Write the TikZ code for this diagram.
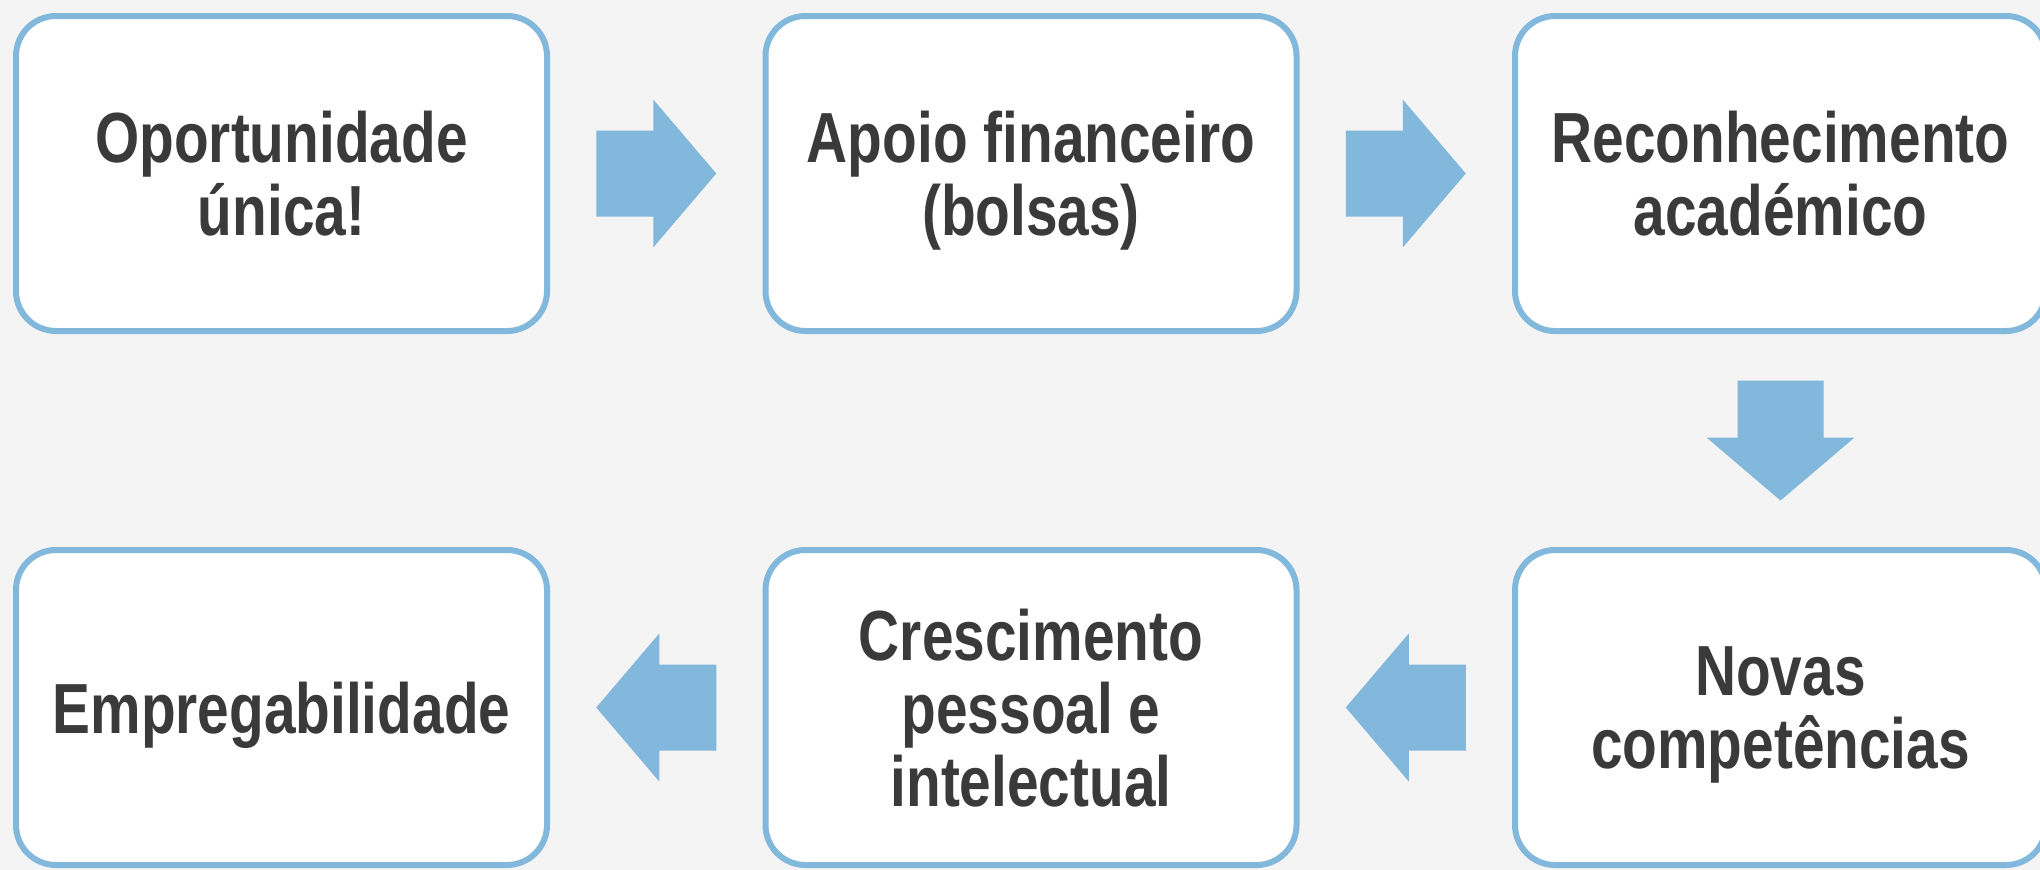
\documentclass[tikz,border=0pt]{standalone}
\usepackage{fontspec}
\newfontfamily\boxfont{Liberation Sans}[FakeStretch=0.8]
\usetikzlibrary{calc}
\definecolor{bordc}{HTML}{82B8DC}
\definecolor{arrc}{HTML}{82B8DC}
\definecolor{txtc}{HTML}{3A3A3A}
\definecolor{bgc}{HTML}{F4F4F4}
\tikzset{
  stepbox/.style={draw=bordc, line width=6pt, fill=white, rounded corners=40pt,
    minimum width=531pt, minimum height=315pt, inner sep=0pt, align=center,
    text depth=0pt, text=txtc, font=\boxfont\bfseries\fontsize{71}{73}\selectfont},
  barrow/.pic={\fill[arrc] (-60,-43) -- (-3,-43) -- (-3,-74) -- (60,0) -- (-3,74) -- (-3,43) -- (-60,43) -- cycle;}
}
\begin{document}
\begin{tikzpicture}[x=1pt,y=1pt]
\fill[bgc] (0,0) rectangle (2040,-870);
\useasboundingbox (0,0) rectangle (2040,-870);
\clip (0,0) rectangle (2040,-870);
\node[stepbox] (b1) at (281.5,-173.5) {Oportunidade\\única!};
\node[stepbox] (b2) at (1031,-173.5) {Apoio financeiro\\(bolsas)};
\node[stepbox] (b3) at (1780.5,-173.5) {Reconhecimento\\académico};
\node[stepbox] (b4) at (1780.5,-707.5) {Novas\\competências};
\node[stepbox] (b5) at (1031,-707.5) {Crescimento\\pessoal e\\intelectual};
\node[stepbox] (b6) at (281.5,-707.5) {Empregabilidade};
\coordinate (m12) at ($(b1.east)!0.5!(b2.west)$);
\coordinate (m23) at ($(b2.east)!0.5!(b3.west)$);
\coordinate (m34) at ($(b3.south)!0.5!(b4.north)$);
\coordinate (m45) at ($(b4.west)!0.5!(b5.east)$);
\coordinate (m56) at ($(b5.west)!0.5!(b6.east)$);
\pic at (m12) {barrow};
\pic at (m23) {barrow};
\pic[rotate=-90] at (m34) {barrow};
\pic[rotate=180] at (m45) {barrow};
\pic[rotate=180] at (m56) {barrow};
\end{tikzpicture}
\end{document}
